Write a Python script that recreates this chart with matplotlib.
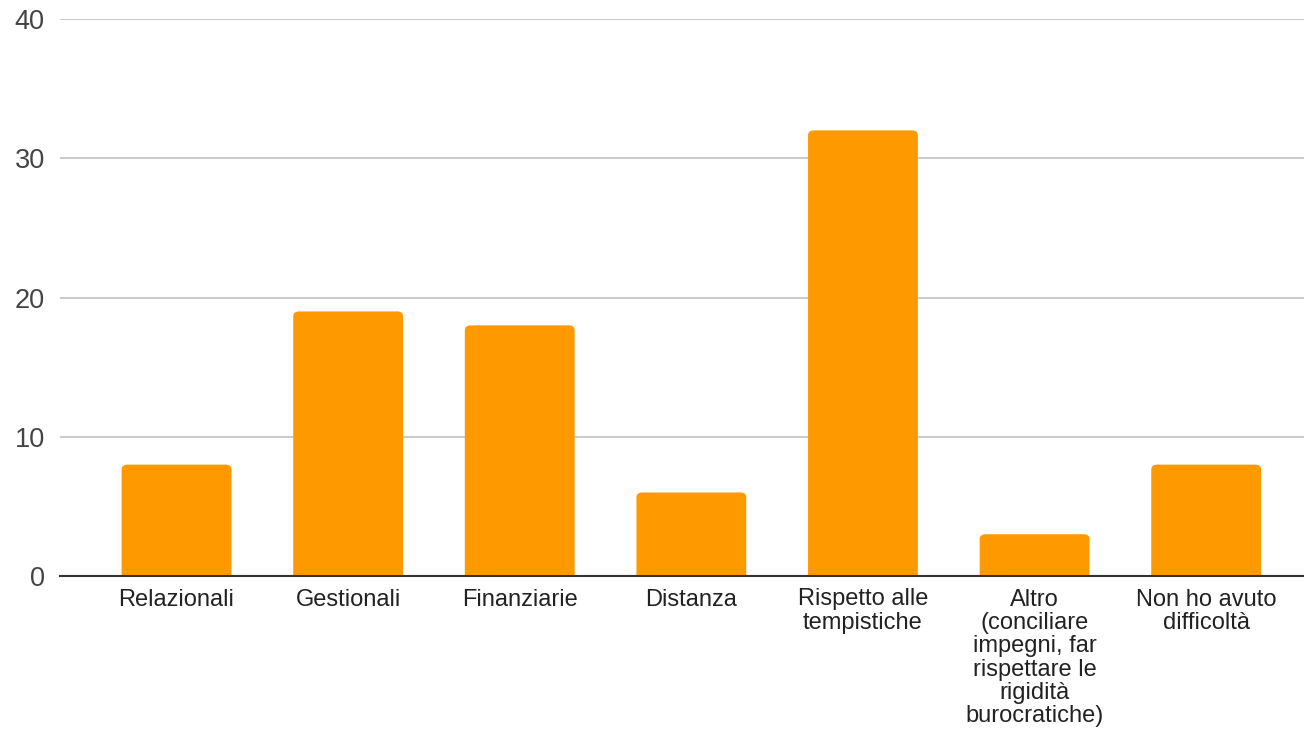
import matplotlib
matplotlib.use("Agg")
import matplotlib.pyplot as plt
from matplotlib.patches import FancyBboxPatch

categories = ["Relazionali", "Gestionali", "Finanziarie", "Distanza",
              "Rispetto alle\ntempistiche",
              "Altro\n(conciliare\nimpegni, far\nrispettare le\nrigidità\nburocratiche)",
              "Non ho avuto\ndifficoltà"]
values = [8, 19, 18, 6, 32, 3, 8]
yticks = [0, 10, 20, 30, 40]

plt.rcParams['font.family'] = ['Liberation Sans', 'DejaVu Sans']

fig = plt.figure(figsize=(13.04, 7.31), dpi=100)
W, H = 1304, 731
ax = fig.add_axes([60 / W, (H - 576) / H, (1304 - 60) / W, (576 - 19) / H])

x = list(range(len(categories)))
bars = ax.bar(x, values, width=0.64, color="#FF9900", zorder=3)
# rounded top corners
for b in bars:
    b.set_visible(False)
    bx, by = b.get_x(), b.get_y()
    bw, bh = b.get_width(), b.get_height()
    p = FancyBboxPatch((bx, by - 0.5), bw, bh + 0.5,
                       boxstyle="round,pad=0,rounding_size=0.035",
                       mutation_aspect=10.0,
                       facecolor="#FF9900", edgecolor="none", zorder=3,
                       clip_on=True)
    ax.add_patch(p)

ax.set_xlim(-0.679, 6.57)
ax.set_ylim(0, 40)
ax.set_yticks(yticks)
ax.set_yticklabels([str(t) for t in yticks])
ax.set_xticks(x)
ax.set_xticklabels(categories, linespacing=1.08)
ax.grid(axis="y", color="#cccccc", linewidth=1.5, zorder=0)
ax.set_axisbelow(True)
for s in ["top", "right", "left"]:
    ax.spines[s].set_visible(False)
ax.spines["bottom"].set_color("#333333")
ax.spines["bottom"].set_linewidth(1.5)
ax.spines["bottom"].set_zorder(4)
ax.tick_params(axis="y", length=0, pad=11, labelsize=19.5, labelcolor="#444444")
ax.tick_params(axis="x", length=0, pad=9, labelsize=17, labelcolor="#222222")
for lbl in ax.get_xticklabels():
    lbl.set_verticalalignment("top")
    lbl.set_horizontalalignment("center")

fig.savefig("out.png", dpi=100)
